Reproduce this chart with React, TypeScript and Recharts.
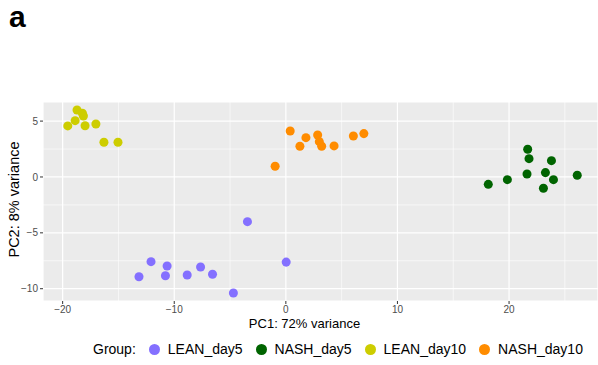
import React from 'react';
import { ScatterChart, Scatter, XAxis, YAxis, ZAxis, CartesianGrid, ReferenceLine, Legend } from 'recharts';

const leanDay5 = [
  { pc1: -13.16, pc2: -8.93 }, { pc1: -12.08, pc2: -7.58 }, { pc1: -10.64, pc2: -7.97 },
  { pc1: -10.79, pc2: -8.84 }, { pc1: -8.84, pc2: -8.77 }, { pc1: -7.64, pc2: -8.06 },
  { pc1: -6.57, pc2: -8.71 }, { pc1: -4.7, pc2: -10.39 }, { pc1: -3.44, pc2: -4.0 },
  { pc1: 0.03, pc2: -7.62 },
];
const nashDay5 = [
  { pc1: 21.67, pc2: 2.48 }, { pc1: 21.79, pc2: 1.64 }, { pc1: 23.8, pc2: 1.46 },
  { pc1: 21.61, pc2: 0.27 }, { pc1: 23.26, pc2: 0.39 }, { pc1: 23.98, pc2: -0.24 },
  { pc1: 26.11, pc2: 0.15 }, { pc1: 19.85, pc2: -0.24 }, { pc1: 18.14, pc2: -0.66 },
  { pc1: 23.08, pc2: -1.01 },
];
const leanDay10 = [
  { pc1: -18.71, pc2: 6.0 }, { pc1: -18.23, pc2: 5.7 }, { pc1: -18.14, pc2: 5.46 },
  { pc1: -18.88, pc2: 5.04 }, { pc1: -19.54, pc2: 4.57 }, { pc1: -17.99, pc2: 4.59 },
  { pc1: -17.02, pc2: 4.74 }, { pc1: -16.3, pc2: 3.11 }, { pc1: -15.04, pc2: 3.11 },
];
const nashDay10 = [
  { pc1: 0.39, pc2: 4.12 }, { pc1: 1.8, pc2: 3.52 }, { pc1: 2.85, pc2: 3.76 },
  { pc1: 3.0, pc2: 3.16 }, { pc1: 3.21, pc2: 2.75 }, { pc1: 1.26, pc2: 2.75 },
  { pc1: 4.32, pc2: 2.78 }, { pc1: 6.05, pc2: 3.67 }, { pc1: 6.99, pc2: 3.88 },
  { pc1: -0.96, pc2: 0.96 },
];

const groupNames = ['LEAN_day5', 'NASH_day5', 'LEAN_day10', 'NASH_day10'];
const xTicks = [-20, -10, 0, 10, 20];
const yTicks = [-10, -5, 0, 5];
const xMinor = [-15, -5, 5, 15, 25];
const yMinor = [-7.5, -2.5, 2.5];

const FONT = '"Liberation Sans", Arial, sans-serif';

const LegendContent = (props: any) => {
  const payload = [...(props.payload || [])].sort(
    (a: any, b: any) => groupNames.indexOf(a.value) - groupNames.indexOf(b.value)
  );
  return (
    <div style={{ display: 'flex', alignItems: 'center', fontFamily: FONT, fontSize: 14, color: '#000', whiteSpace: 'nowrap' }}>
      <span style={{ marginRight: 13 }}>Group:</span>
      {payload.map((p: any) => (
        <span key={p.value} style={{ display: 'flex', alignItems: 'center', marginRight: 13 }}>
          <span style={{ width: 11, height: 11, borderRadius: '50%', background: p.color, display: 'inline-block', marginRight: 8 }} />
          <span>{p.value}</span>
        </span>
      ))}
    </div>
  );
};

const YTitle = (props: any) => {
  const vb = props.viewBox || {};
  const cx = vb.x + 14;
  const cy = vb.y + vb.height / 2 - 2;
  return (
    <text x={cx} y={cy} transform={`rotate(-90, ${cx}, ${cy})`} textAnchor="middle" dominantBaseline="central"
      style={{ fontFamily: FONT, fontSize: 14.5, fill: '#000' }}>
      PC2: 8% variance
    </text>
  );
};

const XTitle = (props: any) => {
  const vb = props.viewBox || {};
  const cx = vb.x + vb.width / 2 - 16;
  const cy = vb.y + 27;
  return (
    <text x={cx} y={cy} textAnchor="middle" style={{ fontFamily: FONT, fontSize: 13, fill: '#000' }}>
      PC1: 72% variance
    </text>
  );
};

export default function App() {
  return (
    <div style={{ position: 'absolute', left: 0, top: 0, width: 598, height: 365, background: '#fff' }}>
      <div style={{ position: 'absolute', left: 9, top: 0, fontFamily: FONT, fontWeight: 'bold', fontSize: 30, lineHeight: '34px' }}>a</div>
      <ScatterChart width={598} height={365} margin={{ top: 102, right: 0, left: 0, bottom: 34 }}>
        <CartesianGrid stroke="#ffffff" strokeWidth={1.2} fill="#EBEBEB" fillOpacity={1} />
        {xMinor.map((v) => (
          <ReferenceLine key={'vx' + v} x={v} stroke="#ffffff" strokeWidth={0.6} />
        ))}
        {yMinor.map((v) => (
          <ReferenceLine key={'hy' + v} y={v} stroke="#ffffff" strokeWidth={0.6} />
        ))}
        <XAxis type="number" dataKey="pc1" domain={[-21.76, 27.97]} ticks={xTicks} allowDataOverflow
          axisLine={false} tickSize={3} tickMargin={2} height={30}
          tickLine={{ stroke: '#333333' }}
          tick={{ fill: '#4D4D4D', fontSize: 10, fontFamily: FONT }}
          tickFormatter={(v: number) => (v < 0 ? '\u2212' + Math.abs(v) : String(v))}
          label={<XTitle />} />
        <YAxis type="number" dataKey="pc2" domain={[-11.1, 6.71]} ticks={yTicks} allowDataOverflow
          axisLine={false} tickSize={3} tickMargin={2} width={43}
          tickLine={{ stroke: '#333333' }}
          tick={{ fill: '#4D4D4D', fontSize: 10, fontFamily: FONT }}
          tickFormatter={(v: number) => (v < 0 ? '\u2212' + Math.abs(v) : String(v))}
          label={<YTitle />} />
        <ZAxis range={[88, 88]} />
        <Legend layout="horizontal" verticalAlign="middle" align="center" content={<LegendContent />}
          wrapperStyle={{ position: 'absolute', top: 341, left: 93, width: 505, height: 18 }} />
        <Scatter name="LEAN_day5" data={leanDay5} fill="#8470FF" isAnimationActive={false} />
        <Scatter name="NASH_day5" data={nashDay5} fill="#006400" isAnimationActive={false} />
        <Scatter name="LEAN_day10" data={leanDay10} fill="#CDCD00" isAnimationActive={false} />
        <Scatter name="NASH_day10" data={nashDay10} fill="#FF8C00" isAnimationActive={false} />
      </ScatterChart>
    </div>
  );
}
